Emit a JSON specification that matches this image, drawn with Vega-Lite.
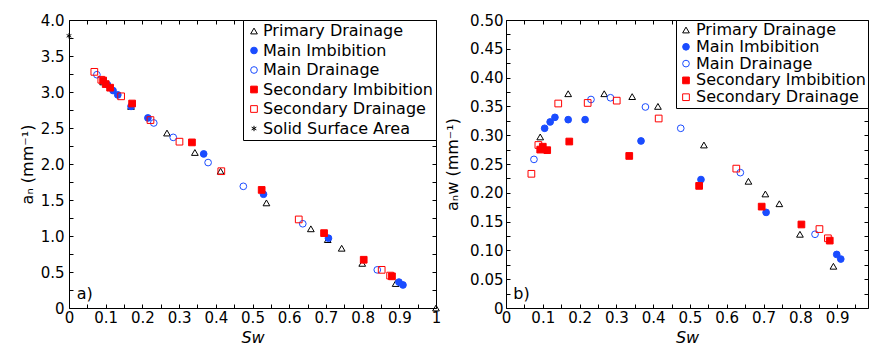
{
  "$schema": "https://vega.github.io/schema/vega-lite/v6.json",
  "padding": {"left": 18, "top": 12, "right": 0, "bottom": 0},
  "spacing": 2,
  "config": {
    "font": "DejaVu Sans",
    "view": {"stroke": "black", "strokeWidth": 1},
    "axis": {
      "grid": false,
      "domain": false,
      "tickColor": "black",
      "tickSize": 4,
      "tickWidth": 1,
      "offset": -4,
      "labelColor": "black",
      "titleColor": "black",
      "labelFont": "DejaVu Sans",
      "titleFont": "DejaVu Sans",
      "labelFontSize": 15,
      "titleFontSize": 16,
      "titleFontWeight": "normal",
      "labelFlush": false,
      "labelOverlap": false,
      "labelBound": false,
      "tickCount": 100
    },
    "legend": {
      "labelFont": "DejaVu Sans",
      "labelFontSize": 16,
      "labelColor": "black",
      "labelLimit": 400
    }
  },
  "datasets": {
    "an": [
      {"Sw": 0.093, "a": 3.14, "series": "Primary Drainage"},
      {"Sw": 0.169, "a": 2.80, "series": "Primary Drainage"},
      {"Sw": 0.267, "a": 2.43, "series": "Primary Drainage"},
      {"Sw": 0.343, "a": 2.16, "series": "Primary Drainage"},
      {"Sw": 0.413, "a": 1.90, "series": "Primary Drainage"},
      {"Sw": 0.538, "a": 1.46, "series": "Primary Drainage"},
      {"Sw": 0.659, "a": 1.10, "series": "Primary Drainage"},
      {"Sw": 0.705, "a": 0.95, "series": "Primary Drainage"},
      {"Sw": 0.743, "a": 0.83, "series": "Primary Drainage"},
      {"Sw": 0.799, "a": 0.62, "series": "Primary Drainage"},
      {"Sw": 0.890, "a": 0.34, "series": "Primary Drainage"},
      {"Sw": 1.0, "a": 0.0, "series": "Primary Drainage"},
      {"Sw": 0.105, "a": 3.10, "series": "Main Imbibition"},
      {"Sw": 0.120, "a": 3.02, "series": "Main Imbibition"},
      {"Sw": 0.133, "a": 2.96, "series": "Main Imbibition"},
      {"Sw": 0.169, "a": 2.80, "series": "Main Imbibition"},
      {"Sw": 0.215, "a": 2.64, "series": "Main Imbibition"},
      {"Sw": 0.367, "a": 2.14, "series": "Main Imbibition"},
      {"Sw": 0.530, "a": 1.58, "series": "Main Imbibition"},
      {"Sw": 0.707, "a": 0.97, "series": "Main Imbibition"},
      {"Sw": 0.899, "a": 0.36, "series": "Main Imbibition"},
      {"Sw": 0.910, "a": 0.32, "series": "Main Imbibition"},
      {"Sw": 0.076, "a": 3.24, "series": "Main Drainage"},
      {"Sw": 0.231, "a": 2.57, "series": "Main Drainage"},
      {"Sw": 0.284, "a": 2.37, "series": "Main Drainage"},
      {"Sw": 0.379, "a": 2.02, "series": "Main Drainage"},
      {"Sw": 0.475, "a": 1.69, "series": "Main Drainage"},
      {"Sw": 0.637, "a": 1.17, "series": "Main Drainage"},
      {"Sw": 0.840, "a": 0.53, "series": "Main Drainage"},
      {"Sw": 0.093, "a": 3.16, "series": "Secondary Imbibition"},
      {"Sw": 0.100, "a": 3.11, "series": "Secondary Imbibition"},
      {"Sw": 0.112, "a": 3.06, "series": "Secondary Imbibition"},
      {"Sw": 0.172, "a": 2.84, "series": "Secondary Imbibition"},
      {"Sw": 0.335, "a": 2.30, "series": "Secondary Imbibition"},
      {"Sw": 0.525, "a": 1.64, "series": "Secondary Imbibition"},
      {"Sw": 0.695, "a": 1.04, "series": "Secondary Imbibition"},
      {"Sw": 0.803, "a": 0.67, "series": "Secondary Imbibition"},
      {"Sw": 0.880, "a": 0.44, "series": "Secondary Imbibition"},
      {"Sw": 0.069, "a": 3.28, "series": "Secondary Drainage"},
      {"Sw": 0.088, "a": 3.17, "series": "Secondary Drainage"},
      {"Sw": 0.142, "a": 2.94, "series": "Secondary Drainage"},
      {"Sw": 0.222, "a": 2.61, "series": "Secondary Drainage"},
      {"Sw": 0.301, "a": 2.31, "series": "Secondary Drainage"},
      {"Sw": 0.415, "a": 1.90, "series": "Secondary Drainage"},
      {"Sw": 0.626, "a": 1.23, "series": "Secondary Drainage"},
      {"Sw": 0.852, "a": 0.53, "series": "Secondary Drainage"},
      {"Sw": 0.875, "a": 0.45, "series": "Secondary Drainage"},
      {"Sw": 0.0, "a": 3.78, "series": "Solid Surface Area"}
    ],
    "anw": [
      {"Sw": 0.093, "a": 0.297, "series": "Primary Drainage"},
      {"Sw": 0.169, "a": 0.372, "series": "Primary Drainage"},
      {"Sw": 0.267, "a": 0.372, "series": "Primary Drainage"},
      {"Sw": 0.343, "a": 0.367, "series": "Primary Drainage"},
      {"Sw": 0.413, "a": 0.350, "series": "Primary Drainage"},
      {"Sw": 0.538, "a": 0.283, "series": "Primary Drainage"},
      {"Sw": 0.659, "a": 0.220, "series": "Primary Drainage"},
      {"Sw": 0.705, "a": 0.198, "series": "Primary Drainage"},
      {"Sw": 0.743, "a": 0.181, "series": "Primary Drainage"},
      {"Sw": 0.799, "a": 0.128, "series": "Primary Drainage"},
      {"Sw": 0.890, "a": 0.0725, "series": "Primary Drainage"},
      {"Sw": 0.105, "a": 0.312, "series": "Main Imbibition"},
      {"Sw": 0.120, "a": 0.323, "series": "Main Imbibition"},
      {"Sw": 0.133, "a": 0.331, "series": "Main Imbibition"},
      {"Sw": 0.169, "a": 0.327, "series": "Main Imbibition"},
      {"Sw": 0.215, "a": 0.327, "series": "Main Imbibition"},
      {"Sw": 0.367, "a": 0.290, "series": "Main Imbibition"},
      {"Sw": 0.530, "a": 0.223, "series": "Main Imbibition"},
      {"Sw": 0.707, "a": 0.166, "series": "Main Imbibition"},
      {"Sw": 0.899, "a": 0.093, "series": "Main Imbibition"},
      {"Sw": 0.910, "a": 0.085, "series": "Main Imbibition"},
      {"Sw": 0.076, "a": 0.258, "series": "Main Drainage"},
      {"Sw": 0.231, "a": 0.362, "series": "Main Drainage"},
      {"Sw": 0.284, "a": 0.365, "series": "Main Drainage"},
      {"Sw": 0.379, "a": 0.349, "series": "Main Drainage"},
      {"Sw": 0.475, "a": 0.312, "series": "Main Drainage"},
      {"Sw": 0.637, "a": 0.235, "series": "Main Drainage"},
      {"Sw": 0.840, "a": 0.128, "series": "Main Drainage"},
      {"Sw": 0.093, "a": 0.275, "series": "Secondary Imbibition"},
      {"Sw": 0.100, "a": 0.280, "series": "Secondary Imbibition"},
      {"Sw": 0.112, "a": 0.274, "series": "Secondary Imbibition"},
      {"Sw": 0.172, "a": 0.289, "series": "Secondary Imbibition"},
      {"Sw": 0.335, "a": 0.264, "series": "Secondary Imbibition"},
      {"Sw": 0.525, "a": 0.212, "series": "Secondary Imbibition"},
      {"Sw": 0.695, "a": 0.176, "series": "Secondary Imbibition"},
      {"Sw": 0.803, "a": 0.145, "series": "Secondary Imbibition"},
      {"Sw": 0.880, "a": 0.117, "series": "Secondary Imbibition"},
      {"Sw": 0.069, "a": 0.233, "series": "Secondary Drainage"},
      {"Sw": 0.088, "a": 0.283, "series": "Secondary Drainage"},
      {"Sw": 0.142, "a": 0.355, "series": "Secondary Drainage"},
      {"Sw": 0.222, "a": 0.356, "series": "Secondary Drainage"},
      {"Sw": 0.301, "a": 0.360, "series": "Secondary Drainage"},
      {"Sw": 0.415, "a": 0.329, "series": "Secondary Drainage"},
      {"Sw": 0.626, "a": 0.242, "series": "Secondary Drainage"},
      {"Sw": 0.852, "a": 0.137, "series": "Secondary Drainage"},
      {"Sw": 0.875, "a": 0.121, "series": "Secondary Drainage"}
    ],
    "labA": [{"label": "a)"}],
    "labB": [{"label": "b)"}]
  },
  "hconcat": [
    {
      "width": 367,
      "height": 288,
      "resolve": {"axis": {"x": "independent", "y": "independent"}},
      "layer": [
        {
          "data": {"name": "an"},
          "mark": {"type": "point", "size": 45, "strokeWidth": 1, "opacity": 1},
          "encoding": {
            "x": {
              "field": "Sw", "type": "quantitative",
              "scale": {"domain": [0, 1], "nice": false, "zero": false},
              "axis": {
                "orient": "bottom",
                "title": "Sw", "titleFontStyle": "italic", "titlePadding": 4, "labelPadding": 2,
                "values": [0, 0.05, 0.1, 0.15, 0.2, 0.25, 0.3, 0.35, 0.4, 0.45, 0.5, 0.55, 0.6, 0.65, 0.7, 0.75, 0.8, 0.85, 0.9, 0.95, 1],
                "labelExpr": "abs(datum.value*10 - round(datum.value*10)) < 0.001 ? (datum.value == 0 ? '0' : datum.value == 1 ? '1' : format(datum.value, '.1f')) : ''"
              }
            },
            "y": {
              "field": "a", "type": "quantitative",
              "scale": {"domain": [0, 4], "nice": false},
              "axis": {
                "orient": "left",
                "title": "aₙ (mm⁻¹)", "titlePadding": 5, "labelPadding": 5,
                "values": [0, 0.25, 0.5, 0.75, 1, 1.25, 1.5, 1.75, 2, 2.25, 2.5, 2.75, 3, 3.25, 3.5, 3.75, 4],
                "labelExpr": "abs(datum.value*2 - round(datum.value*2)) < 0.001 ? (datum.value == 0 ? '0' : format(datum.value, '.1f')) : ''"
              }
            },
            "shape": {
              "field": "series", "type": "nominal",
              "scale": {
                "domain": ["Primary Drainage", "Main Imbibition", "Main Drainage", "Secondary Imbibition", "Secondary Drainage", "Solid Surface Area"],
                "range": ["triangle-up", "circle", "circle", "square", "square", "M0,-0.8L0,0.8M-0.7,-0.4L0.7,0.4M-0.7,0.4L0.7,-0.4"]
              },
              "legend": {"title": null, "orient": "top-right", "offset": 0, "strokeColor": "black", "fillColor": "white", "padding": 3, "rowPadding": 3.5, "labelOffset": 1, "symbolSize": 45, "symbolStrokeWidth": 1}
            },
            "fill": {
              "field": "series", "type": "nominal",
              "scale": {
                "domain": ["Primary Drainage", "Main Imbibition", "Main Drainage", "Secondary Imbibition", "Secondary Drainage", "Solid Surface Area"],
                "range": ["transparent", "#1a4cff", "transparent", "#ff0000", "transparent", "transparent"]
              },
              "legend": {"title": null, "orient": "top-right", "offset": 0, "strokeColor": "black", "fillColor": "white", "padding": 3, "rowPadding": 3.5, "labelOffset": 1, "symbolSize": 45, "symbolStrokeWidth": 1}
            },
            "stroke": {
              "field": "series", "type": "nominal",
              "scale": {
                "domain": ["Primary Drainage", "Main Imbibition", "Main Drainage", "Secondary Imbibition", "Secondary Drainage", "Solid Surface Area"],
                "range": ["black", "#1a4cff", "#1a4cff", "#ff0000", "#ff0000", "black"]
              },
              "legend": {"title": null, "orient": "top-right", "offset": 0, "strokeColor": "black", "fillColor": "white", "padding": 3, "rowPadding": 3.5, "labelOffset": 1, "symbolSize": 45, "symbolStrokeWidth": 1}
            }
          }
        },
        {
          "data": {"name": "labA"},
          "mark": {"type": "text", "fontSize": 16, "font": "DejaVu Sans", "color": "black", "align": "center", "baseline": "middle"},
          "encoding": {
            "x": {
              "datum": 0.043, "type": "quantitative",
              "axis": {"orient": "top", "title": null, "labels": false,
                "values": [0, 0.05, 0.1, 0.15, 0.2, 0.25, 0.3, 0.35, 0.4, 0.45, 0.5, 0.55, 0.6, 0.65, 0.7, 0.75, 0.8, 0.85, 0.9, 0.95, 1]}
            },
            "y": {
              "datum": 0.19, "type": "quantitative",
              "axis": {"orient": "right", "title": null, "labels": false,
                "values": [0, 0.25, 0.5, 0.75, 1, 1.25, 1.5, 1.75, 2, 2.25, 2.5, 2.75, 3, 3.25, 3.5, 3.75, 4]}
            },
            "text": {"field": "label"}
          }
        }
      ]
    },
    {
      "width": 362,
      "height": 288,
      "resolve": {"axis": {"x": "independent", "y": "independent"}},
      "layer": [
        {
          "data": {"name": "anw"},
          "mark": {"type": "point", "size": 45, "strokeWidth": 1, "opacity": 1},
          "encoding": {
            "x": {
              "field": "Sw", "type": "quantitative",
              "scale": {"domain": [0, 0.984], "nice": false, "zero": false},
              "axis": {
                "orient": "bottom",
                "title": "Sw", "titleFontStyle": "italic", "titlePadding": 4, "labelPadding": 2,
                "values": [0, 0.05, 0.1, 0.15, 0.2, 0.25, 0.3, 0.35, 0.4, 0.45, 0.5, 0.55, 0.6, 0.65, 0.7, 0.75, 0.8, 0.85, 0.9, 0.95],
                "labelExpr": "abs(datum.value*10 - round(datum.value*10)) < 0.001 ? (datum.value == 0 ? '0' : format(datum.value, '.1f')) : ''"
              }
            },
            "y": {
              "field": "a", "type": "quantitative",
              "scale": {"domain": [0, 0.5], "nice": false},
              "axis": {
                "orient": "left",
                "title": "aₙw (mm⁻¹)", "titlePadding": 9, "labelPadding": 3,
                "values": [0, 0.025, 0.05, 0.075, 0.1, 0.125, 0.15, 0.175, 0.2, 0.225, 0.25, 0.275, 0.3, 0.325, 0.35, 0.375, 0.4, 0.425, 0.45, 0.475, 0.5],
                "labelExpr": "abs(datum.value*20 - round(datum.value*20)) < 0.001 ? (datum.value == 0 ? '0' : format(datum.value, '.2f')) : ''"
              }
            },
            "shape": {
              "field": "series", "type": "nominal",
              "scale": {
                "domain": ["Primary Drainage", "Main Imbibition", "Main Drainage", "Secondary Imbibition", "Secondary Drainage"],
                "range": ["triangle-up", "circle", "circle", "square", "square"]
              },
              "legend": {"title": null, "orient": "top-right", "offset": 0, "strokeColor": "black", "fillColor": "white", "padding": 2, "rowPadding": 0.8, "labelOffset": 2, "symbolSize": 45, "symbolStrokeWidth": 1}
            },
            "fill": {
              "field": "series", "type": "nominal",
              "scale": {
                "domain": ["Primary Drainage", "Main Imbibition", "Main Drainage", "Secondary Imbibition", "Secondary Drainage"],
                "range": ["transparent", "#1a4cff", "transparent", "#ff0000", "transparent"]
              },
              "legend": {"title": null, "orient": "top-right", "offset": 0, "strokeColor": "black", "fillColor": "white", "padding": 2, "rowPadding": 0.8, "labelOffset": 2, "symbolSize": 45, "symbolStrokeWidth": 1}
            },
            "stroke": {
              "field": "series", "type": "nominal",
              "scale": {
                "domain": ["Primary Drainage", "Main Imbibition", "Main Drainage", "Secondary Imbibition", "Secondary Drainage"],
                "range": ["black", "#1a4cff", "#1a4cff", "#ff0000", "#ff0000"]
              },
              "legend": {"title": null, "orient": "top-right", "offset": 0, "strokeColor": "black", "fillColor": "white", "padding": 2, "rowPadding": 0.8, "labelOffset": 2, "symbolSize": 45, "symbolStrokeWidth": 1}
            }
          }
        },
        {
          "data": {"name": "labB"},
          "mark": {"type": "text", "fontSize": 16, "font": "DejaVu Sans", "color": "black", "align": "center", "baseline": "middle"},
          "encoding": {
            "x": {
              "datum": 0.042, "type": "quantitative",
              "axis": {"orient": "top", "title": null, "labels": false,
                "values": [0, 0.05, 0.1, 0.15, 0.2, 0.25, 0.3, 0.35, 0.4, 0.45, 0.5, 0.55, 0.6, 0.65, 0.7, 0.75, 0.8, 0.85, 0.9, 0.95]}
            },
            "y": {
              "datum": 0.024, "type": "quantitative",
              "axis": {"orient": "right", "title": null, "labels": false,
                "values": [0, 0.025, 0.05, 0.075, 0.1, 0.125, 0.15, 0.175, 0.2, 0.225, 0.25, 0.275, 0.3, 0.325, 0.35, 0.375, 0.4, 0.425, 0.45, 0.475, 0.5]}
            },
            "text": {"field": "label"}
          }
        }
      ]
    }
  ],
  "resolve": {
    "scale": {"shape": "independent", "fill": "independent", "stroke": "independent"},
    "legend": {"shape": "independent", "fill": "independent", "stroke": "independent"}
  }
}
